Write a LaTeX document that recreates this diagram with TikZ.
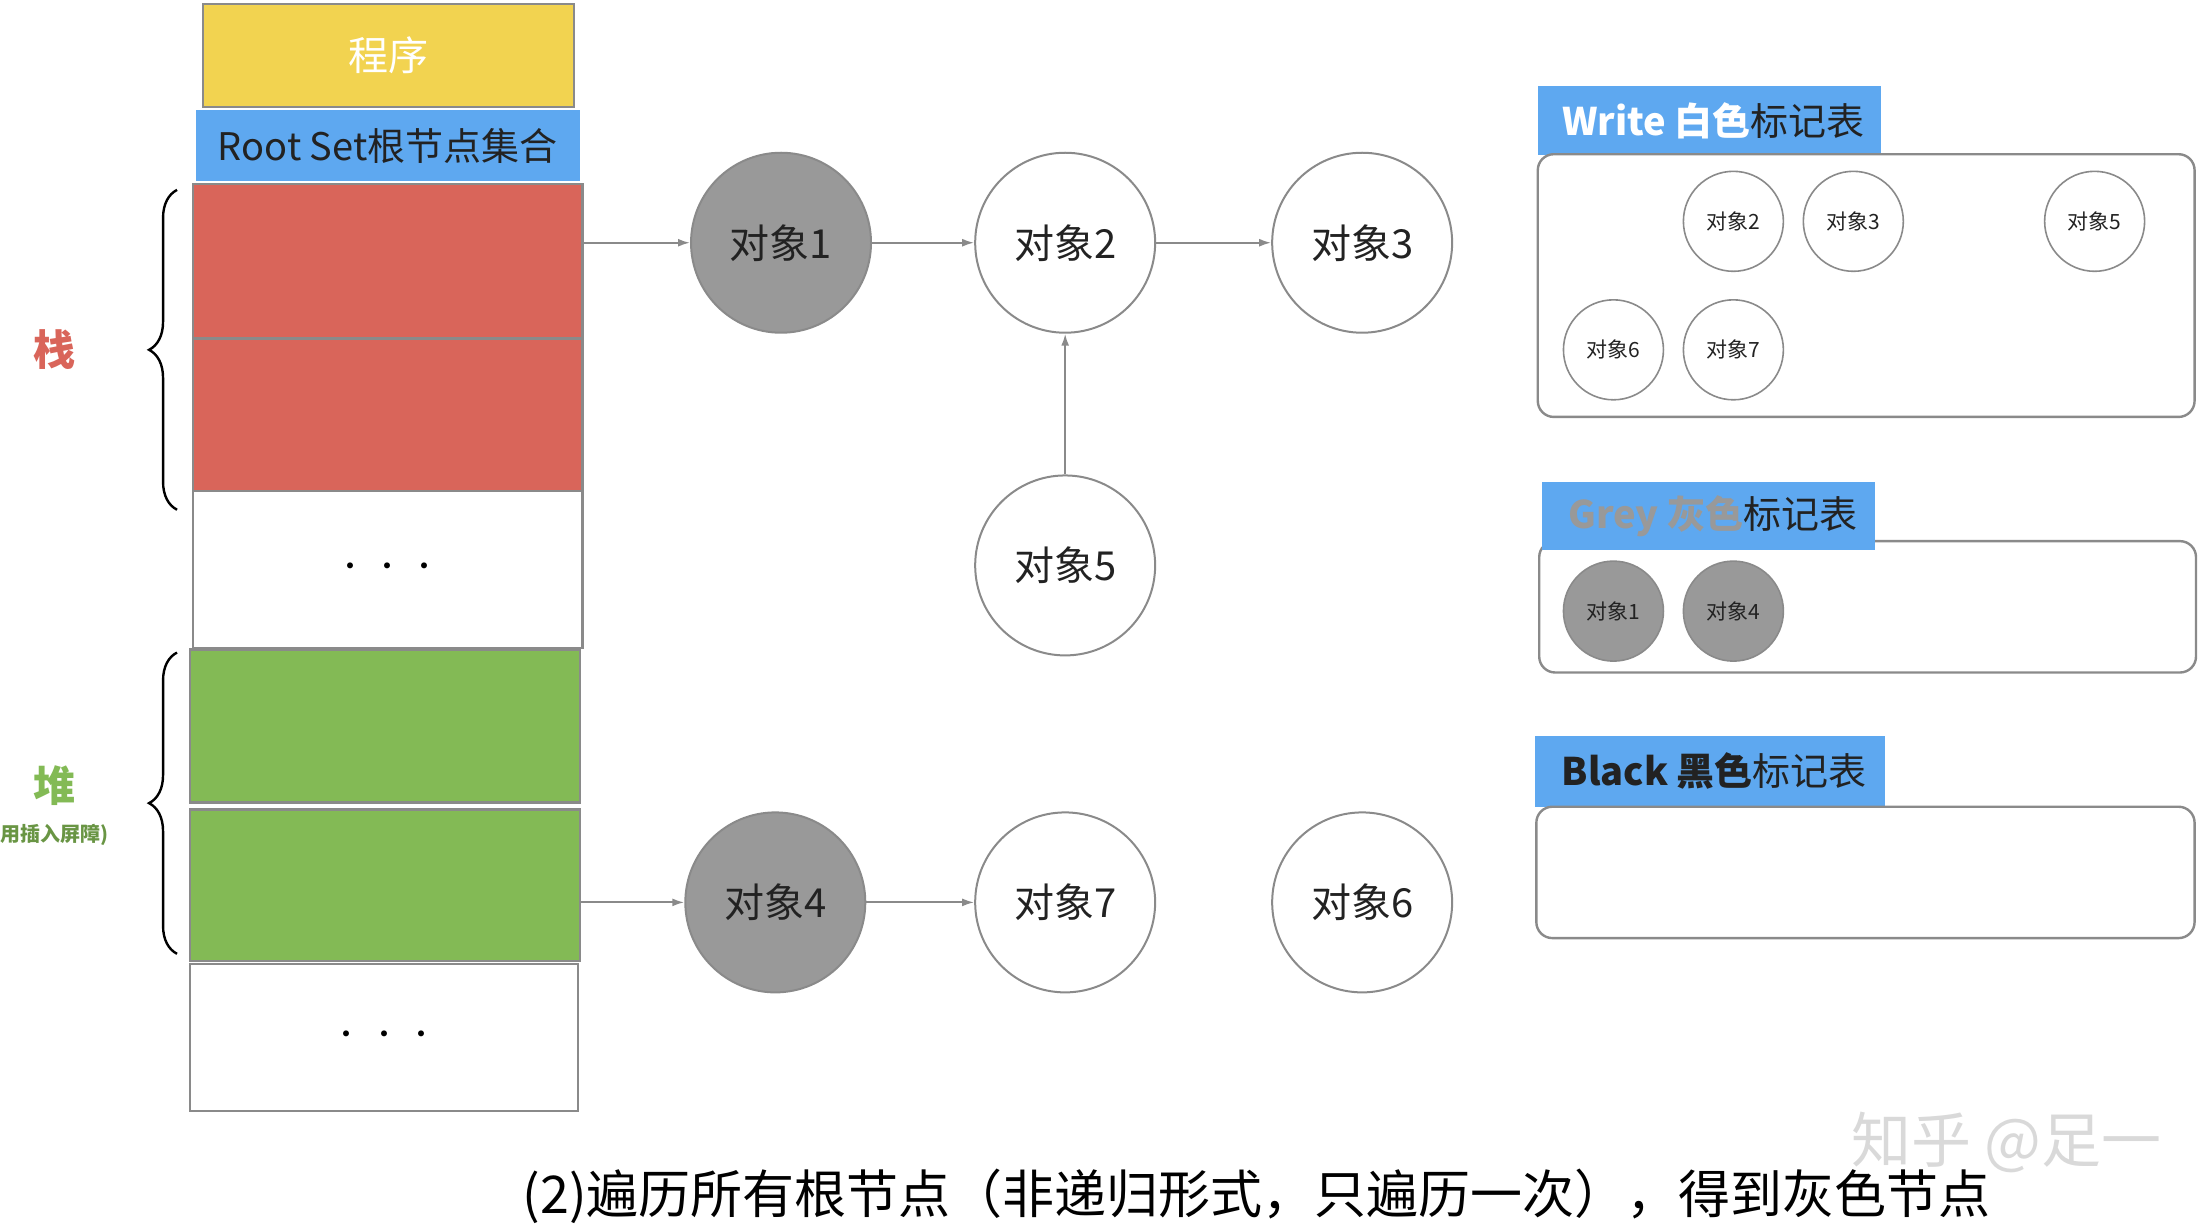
\documentclass[tikz,border=0pt]{standalone}
\usepackage{fontspec}
\setmainfont{Noto Sans CJK SC}
\usetikzlibrary{arrows.meta,decorations.pathreplacing}
\definecolor{ylw}{HTML}{F2D350}
\definecolor{blu}{HTML}{5EA8F0}
\definecolor{rd}{HTML}{D9655A}
\definecolor{grn}{HTML}{83BA55}
\definecolor{gr}{HTML}{999999}
\definecolor{edge}{HTML}{8A8A8A}
\definecolor{txt}{HTML}{222222}
\begin{document}
\begin{tikzpicture}[x=0.714pt,y=-0.714pt,
  blk/.style={draw=edge,line width=1.2pt,inner sep=0pt},
  obj/.style={circle,draw=edge,line width=1pt,minimum size=90pt,inner sep=0pt,font=\fontsize{20}{20}\selectfont,text=txt},
  sobj/.style={circle,draw=edge,line width=0.8pt,minimum size=50pt,inner sep=0pt,font=\fontsize{10.5}{11}\selectfont,text=txt},
  g/.style={fill=gr},
  arr/.style={-{Latex[length=6pt,width=4pt]},draw=edge,line width=1pt},
  hdr/.style={fill=blu,inner sep=0pt,anchor=north west,font=\fontsize{19}{20}\selectfont,text=txt},
  panel/.style={draw=edge,line width=1.2pt,rounded corners=8pt},
  dots/.style={font=\fontsize{14}{14}\selectfont}]
\useasboundingbox (0,0) rectangle (1545,860);
% left column
\node[fill=ylw,draw=edge,line width=1pt,minimum width=260*0.714pt,minimum height=72*0.714pt,text=white,font=\fontsize{20}{20}\selectfont] (prog) at (272,39) {程序};
\node[fill=blu,minimum width=269*0.714pt,minimum height=50*0.714pt,text=txt,font=\fontsize{19}{20}\selectfont] (root) at (271.5,102) {Root Set根节点集合};
\node[blk,fill=rd,minimum width=273*0.714pt,minimum height=108*0.714pt] (r1) at (271.5,183) {};
\node[blk,fill=rd,minimum width=273*0.714pt,minimum height=107*0.714pt] (r2) at (271.5,290.5) {};
\node[blk,fill=white,minimum width=273*0.714pt,minimum height=110*0.714pt,dots] (w1) at (271.5,399) {\textbullet\,\,\textbullet\,\,\textbullet};
\node[blk,fill=grn,minimum width=273*0.714pt,minimum height=107*0.714pt] (g1) at (269.5,508.5) {};
\node[blk,fill=grn,minimum width=273*0.714pt,minimum height=106*0.714pt] (g2) at (269.5,620) {};
\node[blk,fill=white,minimum width=272*0.714pt,minimum height=103*0.714pt,dots] (w2) at (269,726.5) {\textbullet\,\,\textbullet\,\,\textbullet};
% braces
\draw[line width=1.2pt,decorate,decoration={brace,amplitude=14pt}] (124,357) -- (124,133);
\draw[line width=1.2pt,decorate,decoration={brace,amplitude=14pt}] (124,668) -- (124,457);
\node[text=rd,font=\bfseries\fontsize{21}{21}\selectfont] (zhan) at (38,245) {栈};
\node[text=grn,font=\bfseries\fontsize{21}{21}\selectfont] (dui) at (38,550) {堆};
\node[text=grn!80!black,font=\bfseries\fontsize{10}{10}\selectfont,anchor=west,inner sep=0pt] (dui2) at (0,585) {用插入屏障)};
% objects
\node[obj,g] (o1) at (547,170) {对象1};
\node[obj] (o2) at (746,170) {对象2};
\node[obj] (o3) at (954,170) {对象3};
\node[obj] (o5) at (746,396) {对象5};
\node[obj,g] (o4) at (543,632) {对象4};
\node[obj] (o7) at (746,632) {对象7};
\node[obj] (o6) at (954,632) {对象6};
\draw[arr] (r1.east |- o1) -- (o1);
\draw[arr] (o1) -- (o2);
\draw[arr] (o2) -- (o3);
\draw[arr] (o5) -- (o2);
\draw[arr] (g2.east |- o4) -- (o4);
\draw[arr] (o4) -- (o7);
% panels
\node[hdr,minimum width=240*0.714pt,minimum height=48*0.714pt] (hw) at (1077,60) {\hspace{4pt}\textcolor{white}{\bfseries Write 白色}标记表\hfill};
\draw[panel] (1077,108) rectangle (1537,292);
\node[sobj] (w2o) at (1214,155) {对象2};
\node[sobj] (w3o) at (1298,155) {对象3};
\node[sobj] (w5o) at (1467,155) {对象5};
\node[sobj] (w6o) at (1130,245) {对象6};
\node[sobj] (w7o) at (1214,245) {对象7};
\draw[panel] (1078,379) rectangle (1538,471);
\node[hdr,minimum width=233*0.714pt,minimum height=48*0.714pt] (hg) at (1080,337) {\hspace{4pt}\textcolor{gr}{\bfseries Grey 灰色}标记表\hfill};
\node[sobj,g] (g1o) at (1130,428) {对象1};
\node[sobj,g] (g4o) at (1214,428) {对象4};
\node[hdr,minimum width=245*0.714pt,minimum height=50*0.714pt] (hb) at (1075,515) {\hspace{4pt}{\bfseries Black 黑色}标记表\hfill};
\draw[panel] (1076,565) rectangle (1537,657);
% caption
\node[text=black,font=\fontsize{26}{27}\selectfont] (cap) at (880,838) {(2)遍历所有根节点（非递归形式，只遍历一次），得到灰色节点};
\node[text=black!15,font=\fontsize{30}{30}\selectfont] (wm) at (1405,800) {知乎 @足一};
\end{tikzpicture}
\end{document}
